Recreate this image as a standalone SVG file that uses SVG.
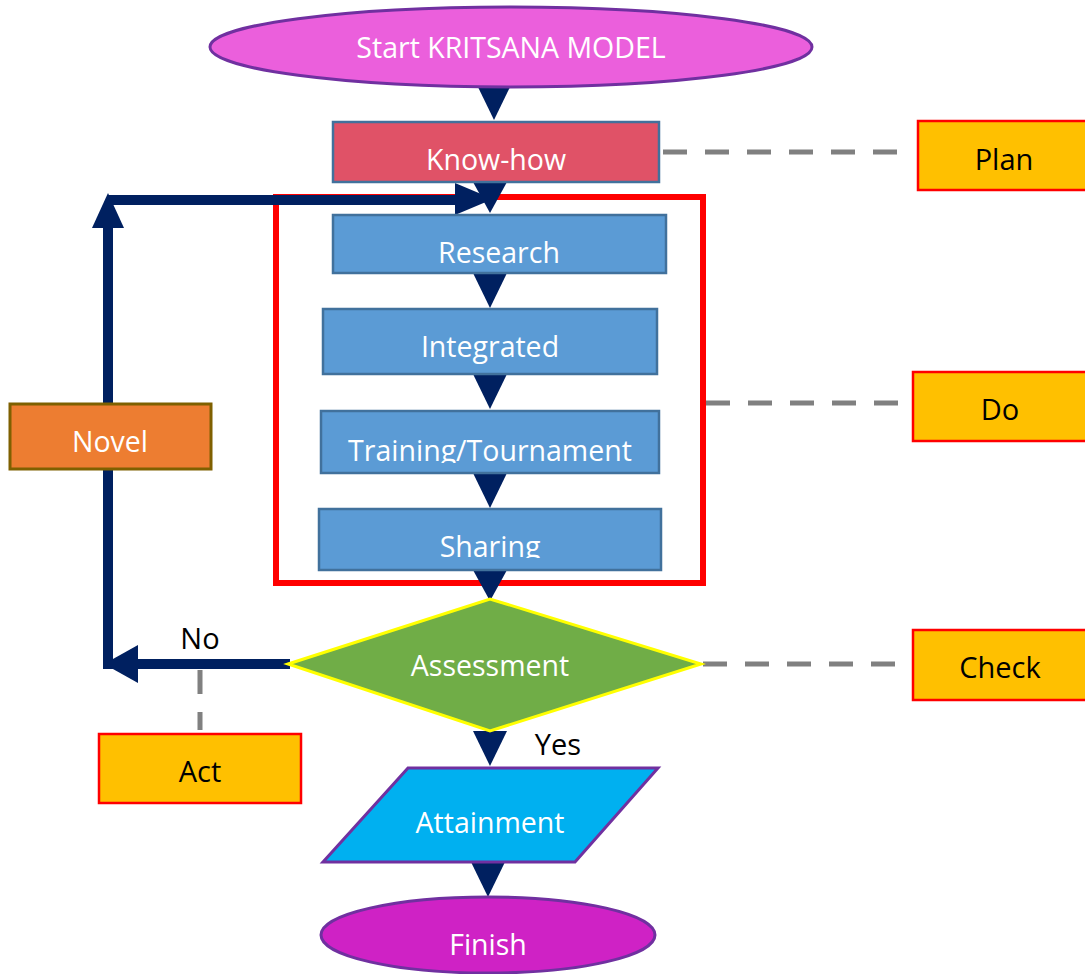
<svg xmlns="http://www.w3.org/2000/svg" width="1085" height="974" viewBox="0 0 1085 974">
<defs>
<style>
.lbl{font-family:"Open Sans","Noto Sans","DejaVu Sans",sans-serif;font-size:28.5px;text-anchor:middle;fill:#fff}
.blk{fill:#000;font-size:29px}
.blue{fill:#5B9BD5;stroke:#41719C;stroke-width:2.5}
.pdca{fill:#FFC000;stroke:#FF0000;stroke-width:2.5}
.head{fill:#002060}
.dash{stroke:#808080;stroke-width:5;stroke-dasharray:24 18;fill:none}
.thick{stroke:#002060;stroke-width:10;fill:none}
</style>
<clipPath id="clipTrain"><rect x="321" y="411" width="338" height="52"/></clipPath>
<clipPath id="clipShare"><rect x="319" y="509" width="342" height="49"/></clipPath>
</defs>
<rect width="1085" height="974" fill="#fff"/>

<g id="do-frame">
<rect x="276" y="197" width="427" height="386" fill="none" stroke="#FF0000" stroke-width="6"/>
</g>

<g id="connectors">
<path class="dash" d="M663 152 H900"/>
<path class="dash" d="M706 403 H900"/>
<path class="dash" d="M703 664 H900"/>
<path class="dash" d="M200 670 V730"/>
<path class="thick" d="M290 664 H108 V225"/>
<path class="thick" d="M108 200 H458"/>
<polygon class="head" points="92,228 124,228 108,193"/>
<polygon class="head" points="455,183 455,215 493,199"/>
<polygon class="head" points="138,645 138,683 104,664"/>
<polygon class="head" points="477,85 511,85 494,120"/>
<polygon class="head" points="473,182 507,182 490,213"/>
<polygon class="head" points="473,273 507,273 490,308"/>
<polygon class="head" points="473,374 507,374 490,409"/>
<polygon class="head" points="473,473 507,473 490,508"/>
<polygon class="head" points="473,570 507,570 490,601"/>
<polygon class="head" points="473,731 507,731 490,766"/>
<polygon class="head" points="471,862 505,862 488,897"/>
</g>

<g id="start">
<ellipse cx="511" cy="47" rx="301" ry="40" fill="#EB5FDC" stroke="#7030A0" stroke-width="3"/>
<text class="lbl" x="511" y="58">Start KRITSANA MODEL</text>
</g>

<g id="knowhow">
<rect x="333" y="122" width="326" height="60" fill="#E05267" stroke="#41719C" stroke-width="2.5"/>
<text class="lbl" x="496" y="170">Know-how</text>
</g>

<g id="research">
<rect class="blue" x="333" y="215" width="333" height="58"/>
<text class="lbl" x="499" y="263">Research</text>
</g>

<g id="integrated">
<rect class="blue" x="323" y="309" width="334" height="65"/>
<text class="lbl" x="490" y="357">Integrated</text>
</g>

<g id="training">
<rect class="blue" x="321" y="411" width="338" height="62"/>
<text class="lbl" x="490" y="461" clip-path="url(#clipTrain)">Training/Tournament</text>
</g>

<g id="sharing">
<rect class="blue" x="319" y="509" width="342" height="61"/>
<text class="lbl" x="490" y="557" clip-path="url(#clipShare)">Sharing</text>
</g>

<g id="assessment">
<polygon points="288,664 490,599 701,664 490,731" fill="#70AD47" stroke="#FFFF00" stroke-width="3"/>
<text class="lbl" x="490" y="676">Assessment</text>
</g>

<g id="attainment">
<polygon points="408,768 658,768 575,862 323,862" fill="#00B0F0" stroke="#7030A0" stroke-width="3"/>
<text class="lbl" x="490" y="833">Attainment</text>
</g>

<g id="finish">
<ellipse cx="488" cy="935" rx="167" ry="38" fill="#CF22C5" stroke="#7030A0" stroke-width="3"/>
<text class="lbl" x="488" y="955">Finish</text>
</g>

<g id="novel">
<rect x="10" y="404" width="201" height="65" fill="#ED7D31" stroke="#7F6000" stroke-width="3"/>
<text class="lbl" x="110" y="452">Novel</text>
</g>

<g id="plan">
<rect class="pdca" x="918" y="121" width="170" height="69"/>
<text class="lbl blk" x="1004" y="170">Plan</text>
</g>

<g id="do">
<rect class="pdca" x="913" y="372" width="175" height="69"/>
<text class="lbl blk" x="1000" y="420">Do</text>
</g>

<g id="check">
<rect class="pdca" x="913" y="630" width="175" height="70"/>
<text class="lbl blk" x="1000" y="678">Check</text>
</g>

<g id="act">
<rect class="pdca" x="99" y="734" width="202" height="69"/>
<text class="lbl blk" x="200" y="782">Act</text>
</g>

<g id="edge-labels">
<text class="lbl blk" x="200" y="649">No</text>
<text class="lbl blk" x="558" y="755">Yes</text>
</g>
</svg>
